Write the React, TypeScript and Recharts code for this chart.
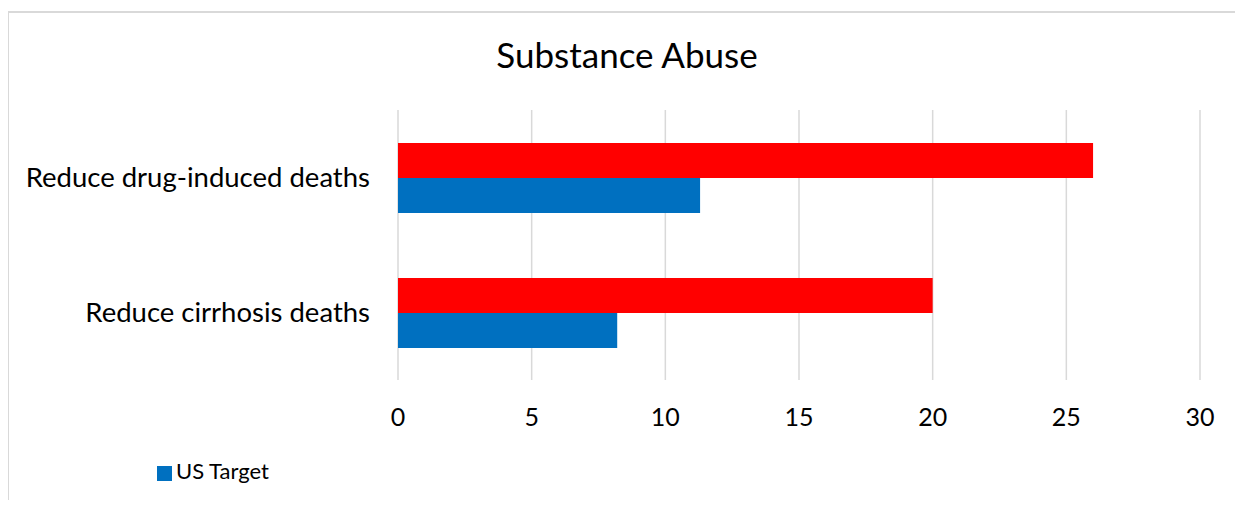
import { BarChart, Bar, XAxis, YAxis, CartesianGrid, Legend } from 'recharts'

const categories = ['Reduce drug-induced deaths', 'Reduce cirrhosis deaths']
const stateValues = [26, 20]
const usTargetValues = [11.3, 8.2]
const xTicks = [0, 5, 10, 15, 20, 25, 30]

const data = categories.map((name, i) => ({ name, state: stateValues[i], usTarget: usTargetValues[i] }))

const font = 'Lato, "Open Sans", sans-serif'

export default function App() {
    return (
        <div style={{ position: 'relative', width: 1243, height: 508, margin: -8, overflow: 'hidden', background: '#fff', fontFamily: font }}>
            <div style={{ position: 'absolute', left: 0, width: 1254, top: 37, textAlign: 'center', fontSize: 35, lineHeight: 1, color: '#000' }}>
                Substance Abuse
            </div>
            <div style={{ position: 'absolute', left: 0, top: 0 }}>
                <BarChart
                    width={1243}
                    height={508}
                    data={data}
                    layout="vertical"
                    margin={{ top: 110, right: 43, bottom: 68, left: 0 }}
                    barSize={35}
                    barGap={0}
                >
                    <CartesianGrid horizontal={false} stroke="#d9d9d9" strokeWidth={1.5} />
                    <XAxis
                        type="number"
                        domain={[0, 30]}
                        ticks={xTicks}
                        axisLine={false}
                        tickLine={false}
                        height={60}
                        tickMargin={22}
                        tick={{ fontSize: 25, fill: '#000', fontFamily: font }}
                    />
                    <YAxis
                        type="category"
                        dataKey="name"
                        width={398}
                        axisLine={false}
                        tickLine={false}
                        tickMargin={22}
                        tick={{ fontSize: 27.5, fill: '#000', fontFamily: font }}
                    />
                    <Legend
                        layout="horizontal"
                        verticalAlign="middle"
                        align="center"
                        iconType="square"
                        iconSize={15}
                        wrapperStyle={{ left: 157, top: 457, width: 'auto', fontSize: 22, fontFamily: font }}
                        formatter={(value: any) => <span style={{ color: '#000' }}>{value}</span>}
                    />
                    <Bar dataKey="state" name="State" fill="#FF0000" legendType="none" isAnimationActive={false} />
                    <Bar dataKey="usTarget" name="US Target" fill="#0070C0" isAnimationActive={false} />
                </BarChart>
            </div>
            <div style={{ position: 'absolute', left: 7, top: 11, width: 1300, height: 600, borderLeft: '2px solid #d9d9d9', borderTop: '2px solid #d9d9d9', pointerEvents: 'none' }} />
        </div>
    )
}
